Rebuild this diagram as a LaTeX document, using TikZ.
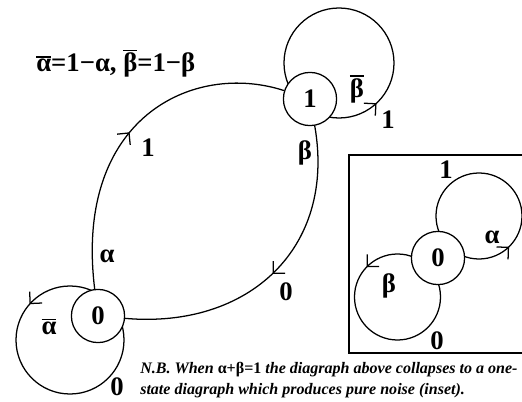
\documentclass[tikz,border=0pt]{standalone}
\usepackage{fontspec}
\setmainfont{Liberation Serif}
\usetikzlibrary{decorations.markings,backgrounds,positioning}

\newcommand\barred[1]{\leavevmode\vbox{\hrule height 0.9pt\kern 1.2pt\hbox{#1}}}
\newcommand\labfont{\bfseries\fontsize{19}{22}\selectfont}

\begin{document}
\begin{tikzpicture}[x=0.025cm,y=0.025cm,
  state/.style={draw,circle,fill=white,line width=0.9pt,inner sep=0pt,minimum size=1.33cm,font=\labfont},
  lab/.style={inner sep=0pt,font=\labfont},
  trans/.style={line width=0.9pt},
  tickat/.style={postaction={decorate,decoration={markings,
      mark=at position #1 with {\draw[line width=0.9pt] (-6pt,6pt) -- (0,0) -- (-6pt,-6pt);}}}}
]
  \useasboundingbox (0,0) rectangle (522,402);

  % states
  \node[state] (s0) at (98,86) {0};
  \node[state] (s1) at (310,303) {1};
  \node[state] (t0) at (438,144) {0};

  % transitions behind the states
  \begin{pgfonlayer}{background}
    \draw[trans,tickat=0.49] (s0) to[out=97,in=162,out distance=4.3cm,in distance=2.4cm] (s1);
    \draw[trans,tickat=0.5] (s1) to[out=-80,in=-5,out distance=3.1cm,in distance=3.1cm] (s0);
    \draw[trans,tickat=0.867] ([shift={(29,36)}]s1.center) ++(55,0) arc[start angle=0,end angle=360,radius=55];
    \draw[trans,tickat=0.382] ([shift={(-28,-24)}]s0.center) ++(54,0) arc[start angle=0,end angle=360,radius=54];
    \draw[trans,tickat=0.87] ([shift={(41,42)}]t0.center) ++(43,0) arc[start angle=0,end angle=360,radius=43];
    \draw[trans,tickat=0.374] ([shift={(-40.5,-39)}]t0.center) ++(43,0) arc[start angle=0,end angle=360,radius=43];
  \end{pgfonlayer}

  % labels
  \node[lab,anchor=base west] (eq) at (36,330) {\barred{α}=1−α, \barred{β}=1−β};
  \node[lab] (p01) at (107,146) {α};
  \node[lab] (o01) at (148,254) {1};
  \node[lab] (p10) at (305,249) {β};
  \node[lab] (o10) at (286,110) {0};
  \node[lab] (p11) at (357,313) {\barred{β}};
  \node[lab] (o11) at (388,282) {1};
  \node[lab] (p00) at (49,75) {\barred{α}};
  \node[lab] (o00) at (117,15) {0};

  % inset
  \draw[trans] (522,247) -- (349,247) -- (349,49) -- (522,49);
  \node[lab] (ia) at (492,165) {α};
  \node[lab] (io1) at (446,232) {1};
  \node[lab] (ib) at (389,116) {β};
  \node[lab] (io0) at (437,61) {0};

  \node[anchor=north west,inner sep=0pt,align=left,
    font=\bfseries\itshape\fontsize{11.4}{15}\selectfont] (nb) at (140,40)
    {N.B. When {\upshape α+β=1} the diagraph above collapses to a one-\\
     state diagraph which produces pure noise (inset).};
\end{tikzpicture}
\end{document}
